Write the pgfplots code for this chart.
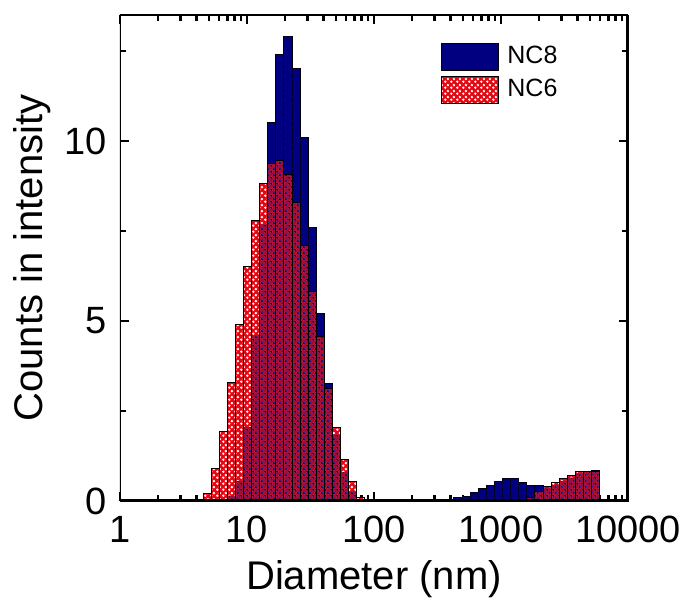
\documentclass[border=0pt]{standalone}
\usepackage{fontspec}
\setmainfont{Liberation Sans}
\usepackage{pgfplots}
\pgfplotsset{compat=1.18}
\usetikzlibrary{patterns}
\definecolor{nceight}{RGB}{0,0,128}
\definecolor{ncsix}{RGB}{225,10,20}
\pgfdeclarepatternformonly{cdots}{\pgfpointorigin}{\pgfpoint{3pt}{3pt}}{\pgfpoint{3pt}{3pt}}{%
  \pgfpathcircle{\pgfpoint{0.75pt}{0.75pt}}{0.75pt}%
  \pgfpathcircle{\pgfpoint{2.25pt}{2.25pt}}{0.75pt}%
  \pgfusepath{fill}}
\pgfdeclarepatternformonly{cdotsbig}{\pgfpointorigin}{\pgfpoint{3pt}{3pt}}{\pgfpoint{3pt}{3pt}}{%
  \pgfpathcircle{\pgfpoint{0.75pt}{0.75pt}}{0.74pt}%
  \pgfpathcircle{\pgfpoint{2.25pt}{2.25pt}}{0.74pt}%
  \pgfusepath{fill}}
\begin{document}
\begin{tikzpicture}
\begin{axis}[name=ax, scale only axis, width=254pt, height=243pt,
  xmode=log, xmin=1, xmax=10000, ymin=0, ymax=13.5,
  xtick={1,10,100,1000,10000}, xticklabels={1,10,100,1000,10000},
  minor xtick={2,3,4,5,6,7,8,9,20,30,40,50,60,70,80,90,200,300,400,500,600,700,800,900,2000,3000,4000,5000,6000,7000,8000,9000},
  ytick={0,5,10}, yticklabels={0,5,10}, minor ytick={2.5,7.5,12.5},
  tick align=inside, major tick length=4.5pt, minor tick length=3pt,
  every tick/.style={black, line width=1.2pt},
  ticklabel style={font=\fontsize{19}{19}\selectfont},
  yticklabel style={xshift=-3pt},
  xticklabel style={yshift=-4pt},
  label style={font=\fontsize{20}{20}\selectfont},
  xlabel style={yshift=-2pt},
  xlabel={Diameter (nm)}, ylabel={Counts in intensity},
  legend style={draw=none, fill=none, at={(0.632,0.944)}, anchor=north west,
    font=\fontsize{12.5}{13}\selectfont, row sep=2.5pt, inner sep=0pt,
    nodes={inner sep=1pt}},
  legend cell align=left,
  legend image code/.code={\draw[#1] (0pt,-6.75pt) rectangle (28.5pt,6.75pt);},
  /tikz/every odd column/.append style={column sep=3pt},
]
% NC8 solid bars
\addplot[ybar interval, fill=nceight, draw=black, line width=0.5pt]
 coordinates {(6.998,0.15)(8.104,0.55)(9.386,2.05)(10.87,4.6)(12.58,7.7)(14.58,10.5)(16.89,12.4)(19.55,12.9)(22.64,12.0)(26.21,10.1)(30.36,7.6)(35.16,5.2)(40.72,3.25)(47.16,1.85)(54.61,0.8)(63.25,0.25)(73.25,0)};
\addlegendentry{NC8}
\addplot[ybar interval, fill=nceight, draw=black, line width=0.5pt, forget plot]
 coordinates {(426.3,0.1)(493.6,0.13)(571.6,0.23)(662.0,0.34)(766.7,0.44)(887.8,0.54)(1027.8,0.63)(1190.4,0.63)(1379.0,0.51)(1596.5,0.42)(1849.3,0.42)(2142.0,0.38)(2480.3,0.45)(2872.4,0.55)(3326.8,0.65)(3851.9,0.75)(4461.5,0.8)(5166.8,0.85)(5983.6,0)};
% NC6 solid red bars
\addplot[ybar interval, fill=ncsix, draw=black, line width=0.5pt,
  legend image code/.code={\draw[fill=ncsix, draw=black!70, line width=0.5pt] (0pt,-6.75pt) rectangle (28.5pt,6.75pt);
    \fill[pattern=cdots, pattern color=white] (0pt,-6.75pt) rectangle (28.5pt,6.75pt);}]
 coordinates {(4.506,0.2)(5.218,0.91)(6.043,1.92)(6.998,3.30)(8.104,4.91)(9.386,6.51)(10.87,7.8)(12.58,8.81)(14.58,9.38)(16.89,9.47)(19.55,9.08)(22.64,8.29)(26.21,7.11)(30.36,5.81)(35.16,4.56)(40.72,3.12)(47.16,2.03)(54.61,1.14)(63.25,0.54)(73.25,0.1)(84.82,0)};
\addlegendentry{NC6}
\addplot[ybar interval, fill=ncsix, draw=black, line width=0.5pt, forget plot]
 coordinates {(1379.0,0.05)(1596.5,0.1)(1849.3,0.25)(2142.0,0.40)(2480.3,0.51)(2872.4,0.62)(3326.8,0.71)(3851.9,0.83)(4461.5,0.83)(5166.8,0.83)(5983.6,0)};
% white dots over NC6
\addplot[ybar interval, draw=none, pattern=cdots, pattern color=white, forget plot]
 coordinates {(4.506,0.2)(5.218,0.91)(6.043,1.92)(6.998,3.30)(8.104,4.91)(9.386,6.51)(10.87,7.8)(12.58,8.81)(14.58,9.38)(16.89,9.47)(19.55,9.08)(22.64,8.29)(26.21,7.11)(30.36,5.81)(35.16,4.56)(40.72,3.12)(47.16,2.03)(54.61,1.14)(63.25,0.54)(73.25,0.1)(84.82,0)};
\addplot[ybar interval, draw=none, pattern=cdots, pattern color=white, forget plot]
 coordinates {(1379.0,0.05)(1596.5,0.1)(1849.3,0.25)(2142.0,0.40)(2480.3,0.51)(2872.4,0.62)(3326.8,0.71)(3851.9,0.83)(4461.5,0.83)(5166.8,0.83)(5983.6,0)};
% NC8 showing through where it lies behind NC6
\addplot[ybar interval, draw=none, fill=nceight, fill opacity=0.22, forget plot]
 coordinates {(6.998,0.15)(8.104,0.55)(9.386,2.05)(10.87,4.6)(12.58,7.7)(14.58,10.5)(16.89,12.4)(19.55,12.9)(22.64,12.0)(26.21,10.1)(30.36,7.6)(35.16,5.2)(40.72,3.25)(47.16,1.85)(54.61,0.8)(63.25,0.25)(73.25,0)};
\addplot[ybar interval, draw=none, fill=nceight, fill opacity=0.22, forget plot]
 coordinates {(426.3,0.1)(493.6,0.13)(571.6,0.23)(662.0,0.34)(766.7,0.44)(887.8,0.54)(1027.8,0.63)(1190.4,0.63)(1379.0,0.51)(1596.5,0.42)(1849.3,0.42)(2142.0,0.38)(2480.3,0.45)(2872.4,0.55)(3326.8,0.65)(3851.9,0.75)(4461.5,0.8)(5166.8,0.85)(5983.6,0)};
\addplot[ybar interval, draw=none, pattern=cdotsbig, pattern color=nceight, forget plot]
 coordinates {(6.998,0.15)(8.104,0.55)(9.386,2.05)(10.87,4.6)(12.58,7.7)(14.58,10.5)(16.89,12.4)(19.55,12.9)(22.64,12.0)(26.21,10.1)(30.36,7.6)(35.16,5.2)(40.72,3.25)(47.16,1.85)(54.61,0.8)(63.25,0.25)(73.25,0)};
\addplot[ybar interval, draw=none, pattern=cdotsbig, pattern color=nceight, forget plot]
 coordinates {(426.3,0.1)(493.6,0.13)(571.6,0.23)(662.0,0.34)(766.7,0.44)(887.8,0.54)(1027.8,0.63)(1190.4,0.63)(1379.0,0.51)(1596.5,0.42)(1849.3,0.42)(2142.0,0.38)(2480.3,0.45)(2872.4,0.55)(3326.8,0.65)(3851.9,0.75)(4461.5,0.8)(5166.8,0.85)(5983.6,0)};
% redraw NC6 outlines
\addplot[ybar interval, fill=none, draw=black, line width=0.5pt, forget plot]
 coordinates {(4.506,0.2)(5.218,0.91)(6.043,1.92)(6.998,3.30)(8.104,4.91)(9.386,6.51)(10.87,7.8)(12.58,8.81)(14.58,9.38)(16.89,9.47)(19.55,9.08)(22.64,8.29)(26.21,7.11)(30.36,5.81)(35.16,4.56)(40.72,3.12)(47.16,2.03)(54.61,1.14)(63.25,0.54)(73.25,0.1)(84.82,0)};
\addplot[ybar interval, fill=none, draw=black, line width=0.5pt, forget plot]
 coordinates {(1379.0,0.05)(1596.5,0.1)(1849.3,0.25)(2142.0,0.40)(2480.3,0.51)(2872.4,0.62)(3326.8,0.71)(3851.9,0.83)(4461.5,0.83)(5166.8,0.83)(5983.6,0)};
\draw[line width=1.5pt] (rel axis cs:0,0) rectangle (rel axis cs:1,1);
\end{axis}
\pgfresetboundingbox
\path ([shift={(-60pt,-49pt)}]ax.south west) rectangle ([shift={(283pt,250.5pt)}]ax.south west);
\end{tikzpicture}
\end{document}
